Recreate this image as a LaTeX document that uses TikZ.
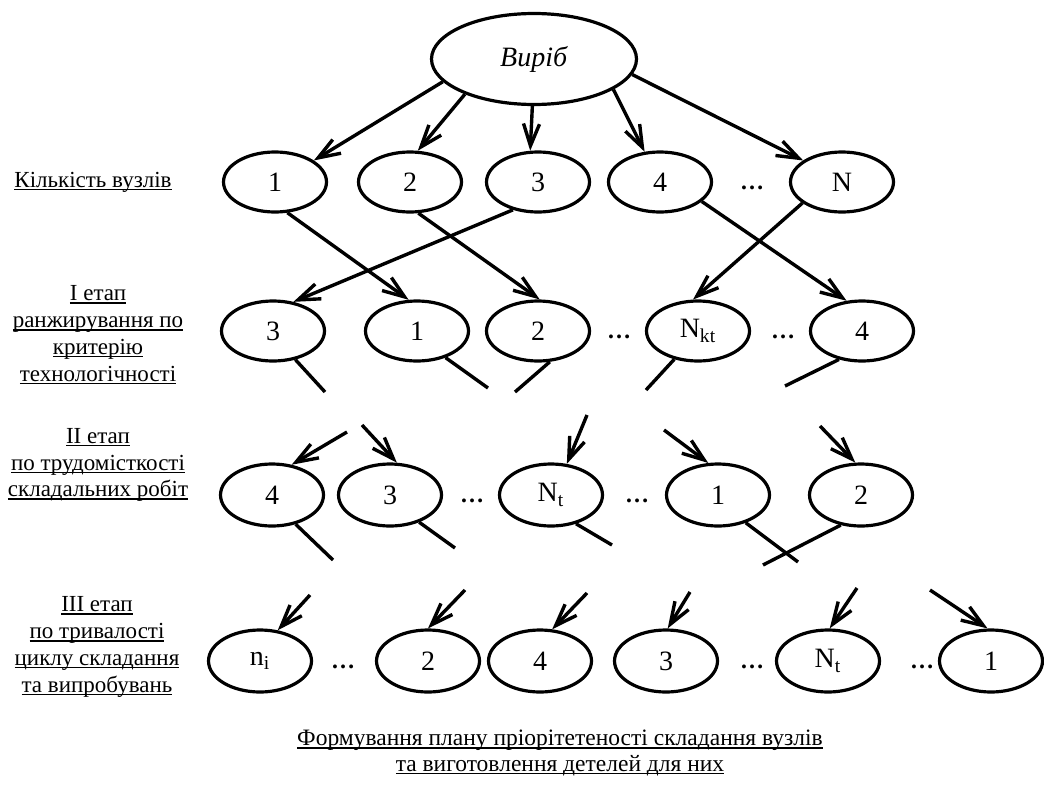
\documentclass[tikz,border=0pt]{standalone}
\usepackage{fontspec}
\setmainfont{Liberation Serif}
\usetikzlibrary{arrows.meta, shapes.geometric}
\newcommand\shchilno{\lineskiplimit=-20pt\relax}
\newcommand\pidkr[1]{\setbox0\hbox{#1}\rlap{\rule[-1.5pt]{\wd0}{0.7pt}}\box0}

\begin{document}
\begin{tikzpicture}[x=0.5pt, y=-0.5pt, line width=1.7pt,
  >={Straight Barb[length=11pt, width=8pt]},
  vuzol/.style={ellipse, draw, line width=1.6pt, minimum width=51.5pt, minimum height=30pt, inner sep=0pt, font=\fontsize{14}{16}\selectfont},
  krapky/.style={font=\fontsize{12}{14}\selectfont\bfseries, yshift=-3pt},
  etap/.style={align=center, font=\fontsize{11.5}{13.4}\selectfont\shchilno}]

\useasboundingbox (0,0) rectangle (1044,787);

% Root node
\node[vuzol, minimum width=102.5pt, minimum height=45.5pt] (V) at (534,59) {\textit{Виріб}\vphantom{Вб}};

% Row 1 -- number of units
\node[vuzol] (K1) at (275,182) {1};
\node[vuzol] (K2) at (410,182) {2};
\node[vuzol] (K3) at (538,182) {3};
\node[vuzol] (K4) at (660,182) {4};
\node[krapky] (Kd) at (752,182) {…};
\node[vuzol] (KN) at (842,182) {N};

% Row 2 -- stage I
\node[vuzol] (R3) at (273,331) {3};
\node[vuzol] (R1) at (417,331) {1};
\node[vuzol] (R2) at (538,331) {2};
\node[krapky] (Rd1) at (619,331) {…};
\node[vuzol] (RNkt) at (698,331) {N\textsubscript{kt}};
\node[krapky] (Rd2) at (783,331) {…};
\node[vuzol] (R4) at (862,331) {4};

% Row 3 -- stage II
\node[vuzol, minimum height=31pt] (T4) at (272,495) {4};
\node[vuzol, minimum height=31pt] (T3) at (390,495) {3};
\node[krapky] (Td1) at (472,495) {…};
\node[vuzol, minimum height=31pt] (TNt) at (551,495) {N\textsubscript{t}};
\node[krapky] (Td2) at (637,495) {…};
\node[vuzol, minimum height=31pt] (T1) at (718,495) {1};
\node[vuzol, minimum height=31pt] (T2) at (861,495) {2};

% Row 4 -- stage III
\node[vuzol, minimum height=31pt] (Sni) at (260,661) {n\textsubscript{i}};
\node[krapky] (Sd1) at (343,661) {…};
\node[vuzol, minimum height=31pt] (S2) at (428,661) {2};
\node[vuzol, minimum height=31pt] (S4) at (540,661) {4};
\node[vuzol, minimum height=31pt] (S3) at (666,661) {3};
\node[krapky] (Sd2) at (752,661) {…};
\node[vuzol, minimum height=31pt] (SNt) at (828,661) {N\textsubscript{t}};
\node[krapky] (Sd3) at (922,661) {…};
\node[vuzol, minimum height=31pt] (S1) at (991,661) {1};

% Row labels
\node[etap] (LK) at (93,182) {\pidkr{Кількість вузлів}};
\node[etap] (LI) at (98,335) {\pidkr{I етап}\\\pidkr{ранжирування по}\\\pidkr{критерію}\\\pidkr{технологічності}};
\node[etap] (LII) at (98,465) {\pidkr{II етап}\\\pidkr{по трудомісткості}\\\pidkr{складальних робіт}};
\node[etap] (LIII) at (97,647) {\pidkr{III етап}\\\pidkr{по тривалості}\\\pidkr{циклу складання}\\\pidkr{та випробувань}};
\node[etap, font=\fontsize{11.75}{12.8}\selectfont\shchilno] (Plan) at (560,753) {\pidkr{Формування плану пріорітетеності складання вузлів}\\\pidkr{та виготовлення детелей для них}};

% Free ends of the broken links
\coordinate (R3e) at (325,392);
\coordinate (R1e) at (488,388);
\coordinate (R2e) at (515,392);
\coordinate (RNkte) at (646,390);
\coordinate (R4e) at (785,386);
\coordinate (T4s) at (347,432);
\coordinate (T3s) at (362,425);
\coordinate (TNts) at (587,415);
\coordinate (T1s) at (664,430);
\coordinate (T2s) at (820,426);
\coordinate (T4e) at (333,560);
\coordinate (T3e) at (455,548);
\coordinate (TNte) at (612,545);
\coordinate (T1e) at (798,562);
\coordinate (T2e) at (763,565);
\coordinate (Snis) at (310,595);
\coordinate (S2s) at (465,590);
\coordinate (S4s) at (587,593);
\coordinate (S3s) at (690,592);
\coordinate (SNts) at (857,588);
\coordinate (S1s) at (930,590);

% Arrows from the root
\draw[->] (V.194) -- (K1.29);
\draw[->] (V.207) -- (K2.76);
\draw[->] (V.268) -- (K3.104);
\draw[->] (V.339) -- (K4.117);
\draw[->] (V.351) -- (KN.151);

% Row 1 to row 2
\draw[->] (K1.292) -- (R1.105);
\draw[->] (K2.285) -- (R2.87);
\draw[->] (K3.228) -- (R3.55);
\draw[->] (K4.335) -- (R4.117);
\draw[->] (KN.208) -- (RNkt.99);

% Row 2 outgoing stubs
\draw (R3.308) -- (R3e);
\draw (R1.317) -- (R1e);
\draw (R2.291) -- (R2e);
\draw (RNkt.230) -- (RNkte);
\draw (R4.231) -- (R4e);

% Row 3 incoming arrows and stubs
\draw[->] (T4s) -- (T4.57);
\draw[->] (T3s) -- (T3.78);
\draw[->] (TNts) -- (TNt.63);
\draw[->] (T1s) -- (T1.107);
\draw[->] (T2s) -- (T2.100);
\draw (T4.309) -- (T4e);
\draw (T3.317) -- (T3e);
\draw (TNt.311) -- (TNte);
\draw (T1.315) -- (T1e);
\draw (T2.236) -- (T2e);

% Row 4 incoming arrows
\draw[->] (Snis) -- (Sni.60);
\draw[->] (S2s) -- (S2.90);
\draw[->] (S4s) -- (S4.69);
\draw[->] (S3s) -- (S3.87);
\draw[->] (SNts) -- (SNt.87);
\draw[->] (S1s) -- (S1.96);

\end{tikzpicture}
\end{document}
